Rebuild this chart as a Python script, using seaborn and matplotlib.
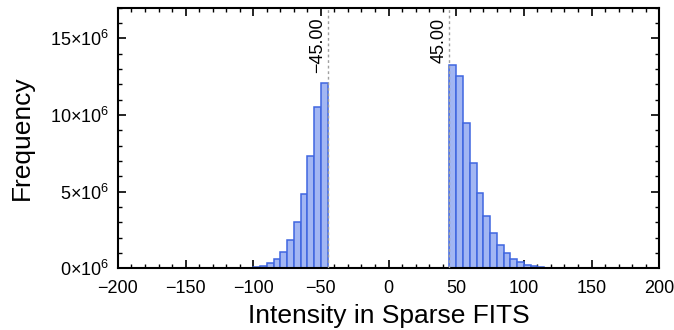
import numpy as np
import pandas as pd
import matplotlib
matplotlib.use("Agg")
import matplotlib.pyplot as plt
import seaborn as sns
from matplotlib.ticker import MultipleLocator

# Bin left edges (width 5) and frequencies (millions)
left_edges = [-200, -195, -190, -185, -180, -175, -170, -165, -160, -155,
              -150, -145, -140, -135, -130, -125, -120, -115, -110, -105,
              -100, -95, -90, -85, -80, -75, -70, -65, -60, -55, -50]
left_freq = [0.004, 0.004, 0.004, 0.004, 0.004, 0.005, 0.005, 0.005, 0.006, 0.006,
             0.007, 0.007, 0.008, 0.009, 0.010, 0.012, 0.015, 0.02, 0.03, 0.04,
             0.08, 0.15, 0.33, 0.59, 1.06, 1.85, 3.04, 4.85, 7.33, 10.54, 12.07]
right_edges = [45, 50, 55, 60, 65, 70, 75, 80, 85, 90, 95, 100, 105, 110, 115,
               120, 125, 130, 135, 140, 145, 150, 155, 160, 165, 170, 175, 180, 185, 190, 195]
right_freq = [13.26, 12.56, 9.50, 6.89, 4.89, 3.41, 2.32, 1.52, 1.02, 0.63, 0.39,
              0.24, 0.13, 0.07, 0.04, 0.025, 0.018, 0.014, 0.011, 0.009, 0.008,
              0.007, 0.006, 0.006, 0.005, 0.005, 0.005, 0.004, 0.004, 0.004, 0.004]
thresholds = [-45.0, 45.0]
xticks = [-200, -150, -100, -50, 0, 50, 100, 150, 200]
yticks = [0, 5, 10, 15]

bin_w = 5
df = pd.DataFrame({
    "x": [e + bin_w / 2 for e in left_edges + right_edges],
    "w": [f * 1e6 for f in left_freq + right_freq],
})

sns.set_style("white")
plt.rcParams["font.family"] = ["Liberation Sans", "DejaVu Sans"]
plt.rcParams["mathtext.fontset"] = "custom"
plt.rcParams["mathtext.rm"] = "Liberation Sans"
plt.rcParams["mathtext.it"] = "Liberation Sans:italic"
plt.rcParams["text.color"] = "black"
plt.rcParams["axes.labelcolor"] = "black"
plt.rcParams["xtick.color"] = "black"
plt.rcParams["ytick.color"] = "black"

fig = plt.figure(figsize=(6.74, 3.30), dpi=100)
ax = fig.add_axes([0.175, 0.187, 0.803, 0.79])

sns.histplot(data=df, x="x", weights="w", binwidth=bin_w, binrange=(-200, 200),
             ax=ax, color="#a2b6f3", edgecolor="#3f66e0", linewidth=1.1, alpha=1.0)

for t in thresholds:
    ax.axvline(t, color="#a0a0a0", linestyle=(0, (2, 2)), linewidth=1.0, zorder=3)
    ax.text(t - 1.5, 16.35e6, f"{t:.2f}".replace("-", "\u2212"), rotation=90,
            ha="right", va="top", fontsize=13, color="black")

ax.set_xlim(-200, 200)
ax.set_ylim(0, 17.0e6)
ax.set_xticks(xticks)
ax.set_xticklabels([str(v).replace("-", "\u2212") for v in xticks])
ax.xaxis.set_minor_locator(MultipleLocator(10))
ax.set_yticks([v * 1e6 for v in yticks])
ax.set_yticklabels([rf"${v}{{\times}}10^{{6}}$" for v in yticks])
ax.yaxis.set_minor_locator(MultipleLocator(1e6))

ax.tick_params(axis="both", which="major", direction="in", length=6, width=1.2,
               bottom=True, left=True, top=True, right=True, labelsize=13)
ax.tick_params(axis="x", which="major", pad=8.5)
ax.tick_params(axis="y", which="major", pad=6)
ax.tick_params(axis="both", which="minor", direction="in", length=3, width=1.0,
               bottom=True, left=True, top=True, right=True)
for s in ax.spines.values():
    s.set_linewidth(1.5)
    s.set_color("black")

ax.set_xlabel("Intensity in Sparse FITS", fontsize=19, labelpad=5)
ax.set_ylabel("Frequency", fontsize=19, labelpad=12)

fig.savefig("out.png", dpi=100)
